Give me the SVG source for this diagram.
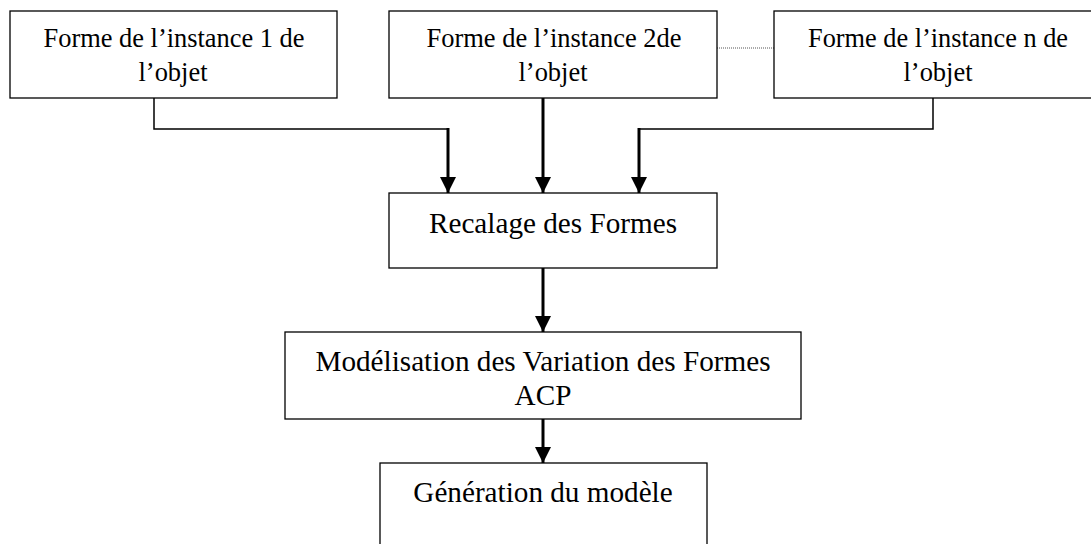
<svg xmlns="http://www.w3.org/2000/svg" width="1091" height="544" viewBox="0 0 1091 544">
<style>
.box{fill:#fff;stroke:#000;stroke-width:1.3}
.t{font-family:"Liberation Serif","Times New Roman",serif;font-size:28px;fill:#000;text-anchor:middle}
.b{font-size:29.2px}
.thin{fill:none;stroke:#000;stroke-width:1.5}
.thick{fill:none;stroke:#000;stroke-width:3}
.dot{fill:none;stroke:#555;stroke-width:1;stroke-dasharray:1 1}
</style>
<defs>
<marker id="ah" markerUnits="userSpaceOnUse" markerWidth="16" markerHeight="16" refX="16" refY="8" orient="auto" viewBox="0 0 16 16">
<path d="M0,0 L16,8 L0,16 z" fill="#000"/>
</marker>
</defs>
<rect width="1091" height="544" fill="#fff"/>
<g id="connectors">
<path class="thin" d="M154,98 V129 H448"/>
<path class="thick" d="M448,128 V193" marker-end="url(#ah)"/>
<path class="thick" d="M543,98 V193" marker-end="url(#ah)"/>
<path class="thin" d="M933,98 V129 H639"/>
<path class="thick" d="M639,128 V193" marker-end="url(#ah)"/>
<path class="dot" d="M717,48 H774"/>
<path class="thick" d="M543,268 V332" marker-end="url(#ah)"/>
<path class="thick" d="M543,419 V463" marker-end="url(#ah)"/>
</g>
<g id="node1">
<rect class="box" x="10" y="11" width="327" height="87"/>
<text class="t" x="174" y="47" textLength="261" lengthAdjust="spacingAndGlyphs">Forme de l’instance 1 de</text>
<text class="t" x="173" y="81" textLength="69" lengthAdjust="spacingAndGlyphs">l’objet</text>
</g>
<g id="node2">
<rect class="box" x="389" y="11" width="328" height="87"/>
<text class="t" x="554" y="47" textLength="255" lengthAdjust="spacingAndGlyphs">Forme de l’instance 2de</text>
<text class="t" x="553" y="81" textLength="69" lengthAdjust="spacingAndGlyphs">l’objet</text>
</g>
<g id="noden">
<rect class="box" x="774" y="11" width="328" height="87"/>
<text class="t" x="938" y="47" textLength="260" lengthAdjust="spacingAndGlyphs">Forme de l’instance n de</text>
<text class="t" x="938" y="81" textLength="69" lengthAdjust="spacingAndGlyphs">l’objet</text>
</g>
<g id="recalage">
<rect class="box" x="389" y="193" width="328" height="75"/>
<text class="t b" x="553" y="233">Recalage des Formes</text>
</g>
<g id="modelisation">
<rect class="box" x="285" y="332" width="516" height="87"/>
<text class="t b" x="543" y="371">Modélisation des Variation des Formes</text>
<text class="t b" x="543" y="405">ACP</text>
</g>
<g id="generation">
<rect class="box" x="380" y="463" width="327" height="100"/>
<text class="t b" x="543" y="502">Génération du modèle</text>
</g>
</svg>
